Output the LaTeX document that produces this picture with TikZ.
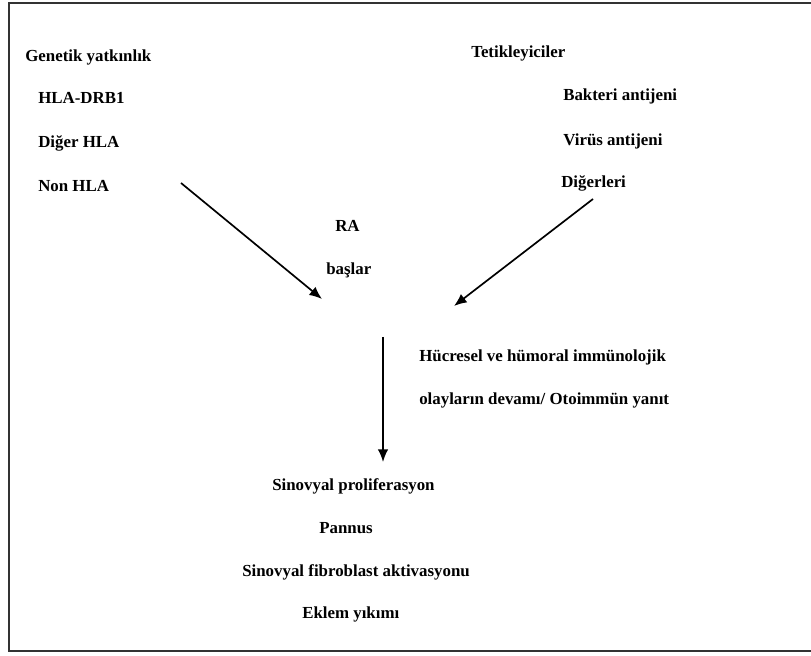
\documentclass[tikz,border=0pt]{standalone}
\usepackage{fontspec}
\setmainfont{Liberation Serif}
\usepackage{tikz}
\usetikzlibrary{arrows.meta}
\tikzset{
    lbl/.style={anchor=base west, inner sep=0pt, font=\bfseries\fontsize{12}{14}\selectfont},
    flow/.style={-{Latex[length=9pt,width=7.5pt]}, line width=1.2pt}
}

\begin{document}
\begin{tikzpicture}
		\useasboundingbox (0,0) rectangle (20.275,16.375);
		\clip (0,0) rectangle (20.275,16.375);
		% frame
		\draw[line width=1.3pt, black!80] (20.4,16.3) -- (0.225,16.3) -- (0.225,0.1) -- (20.4,0.1);

		% genetic side
		\node[lbl] (gen) at (0.625, 14.825) {Genetik yatkınlık};
		\node[lbl] (hla) at (0.95, 13.775) {HLA-DRB1};
		\node[lbl] (digerhla) at (0.95, 12.675) {Diğer HLA};
		\node[lbl] (nonhla) at (0.95, 11.575) {Non HLA};

		% triggers
		\node[lbl] (tetik) at (11.775, 14.925) {Tetikleyiciler};
		\node[lbl] (bakteri) at (14.075, 13.85) {Bakteri antijeni};
		\node[lbl] (virus) at (14.075, 12.725) {Virüs antijeni};
		\node[lbl] (digerleri) at (14.025, 11.675) {Diğerleri};

		% onset
		\node[lbl] (ra) at (8.375, 10.575) {RA};
		\node[lbl] (baslar) at (8.15, 9.5) {başlar};

		\node[lbl] (hucre) at (10.475, 7.325) {Hücresel ve hümoral immünolojik};
		\node[lbl] (olay) at (10.475, 6.25) {olayların devamı/ Otoimmün yanıt};

		% outcome
		\node[lbl] (sinprol) at (6.8, 4.1) {Sinovyal proliferasyon};
		\node[lbl] (pannus) at (7.975, 3.025) {Pannus};
		\node[lbl] (sinfib) at (6.05, 1.95) {Sinovyal fibroblast aktivasyonu};
		\node[lbl] (eklem) at (7.55, 0.9) {Eklem yıkımı};

		% arrows
		\coordinate (genOut) at (4.525, 11.8);
		\coordinate (genIn) at (8.05, 8.9);
		\coordinate (tetOut) at (14.825, 11.4);
		\coordinate (tetIn) at (11.35, 8.725);
		\coordinate (raOut) at (9.575, 7.95);
		\coordinate (raIn) at (9.575, 4.825);
		\draw[flow] (genOut) -- (genIn);
		\draw[flow] (tetOut) -- (tetIn);
		\draw[flow] (raOut) -- (raIn);
\end{tikzpicture}
\end{document}
